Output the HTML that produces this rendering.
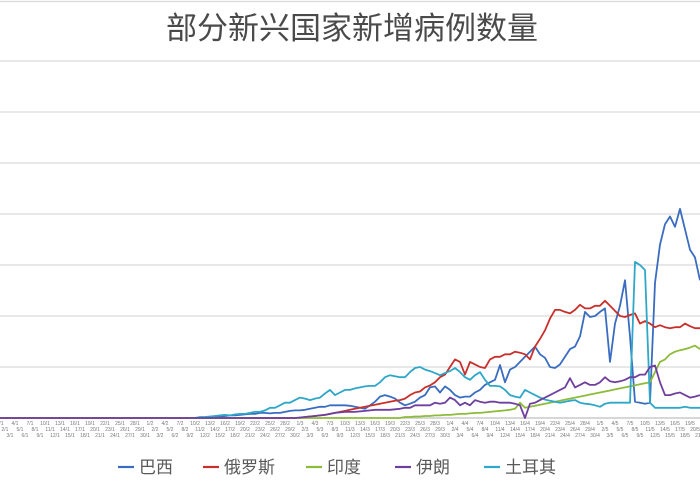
<!DOCTYPE html>
<html><head><meta charset="utf-8">
<style>
html,body{margin:0;padding:0;background:#fff;}
#chart{position:absolute;left:0;top:0;width:700px;height:500px;overflow:hidden;}
</style></head>
<body>
<div id="chart">
<svg id="svg" width="700" height="500" xmlns="http://www.w3.org/2000/svg">
<text x="352" y="39" text-anchor="middle" font-family="Liberation Sans, 'Noto Sans CJK SC', sans-serif" font-size="31" fill="#4a4a4a">部分新兴国家新增病例数量</text>
<g id="grid"></g><g id="xlabels"></g><g id="series"></g>
<g id="legend" font-family="Liberation Sans, 'Noto Sans CJK SC', sans-serif" font-size="17" fill="#595959"></g>
</svg>
</div>
<script>
const gridValues = [0,1,2,3,4,5,6,7];
const nCategories = 141;
const seriesNames = ["巴西","俄罗斯","印度","伊朗","土耳其"];
const seriesColors = ["#3a6cc0","#c8302c","#8dbb3a","#6f3f9e","#2ea7c8"];
const brazilStart = 38;
const brazilValues = [0,0,0,0.01,0.02,0.03,0.03,0.04,0.05,0.05,0.06,0.07,0.08,0.08,0.1,0.1,0.09,0.1,0.1,0.12,0.14,0.15,0.15,0.16,0.18,0.2,0.22,0.22,
0.25,0.25,0.25,0.25,0.24,0.22,0.2,0.18,0.25,0.32,0.42,0.45,0.42,0.38,0.3,0.25,0.28,0.32,0.4,0.45,0.6,0.62,0.5,0.62,0.55,0.45,0.4,0.42,0.42,0.5,0.55,0.65,0.7,0.75,1.04,0.7,0.95,1.0,1.1,1.2,1.3,1.4,1.25,1.18,1.0,0.98,1.05,1.2,1.35,1.4,1.6,2.08,1.98,2.0,2.08,2.15,1.1,1.85,2.2,2.7,1.6,0.32,0.3,0.28,0.3,2.65,3.4,3.8,3.95,3.75,4.1,3.7,3.3,3.15,2.7];
const russiaStart = 61;
const russiaValues = [0.02,0.03,0.04,0.05,0.06,0.08,0.1,0.12,0.14,0.16,0.18,0.2,0.22,0.24,0.26,0.28,0.3,0.32,0.34,0.35,0.38,0.45,0.5,0.52,0.6,0.64,0.7,0.8,0.85,1.0,1.15,1.1,0.85,1.1,1.05,1.0,0.98,1.15,1.2,1.2,1.25,1.25,1.3,1.28,1.25,1.15,1.4,1.55,1.72,1.95,2.12,2.12,2.08,2.05,2.12,2.22,2.15,2.15,2.2,2.2,2.3,2.2,2.1,2.0,1.98,2.02,2.05,1.85,1.9,1.85,1.78,1.82,1.78,1.76,1.78,1.78,1.85,1.8,1.76,1.76];
const indiaStart = 81;
const indiaValues = [0.02,0.02,0.03,0.03,0.04,0.04,0.05,0.05,0.06,0.06,0.07,0.08,0.08,0.09,0.1,0.1,0.11,0.12,0.13,0.14,0.15,0.16,0.18,0.3,0.2,0.22,0.24,0.26,0.28,0.3,0.32,0.34,0.36,0.38,0.4,0.42,0.44,0.46,0.48,0.5,0.52,0.54,0.56,0.58,0.6,0.62,0.64,0.66,0.68,0.7,0.9,1.1,1.15,1.25,1.3,1.33,1.35,1.38,1.42,1.35];
const iranStart = 60;
const iranValues = [0.01,0.02,0.03,0.04,0.05,0.06,0.08,0.1,0.11,0.12,0.12,0.12,0.13,0.14,0.15,0.16,0.16,0.16,0.16,0.17,0.18,0.2,0.2,0.25,0.25,0.25,0.25,0.3,0.28,0.3,0.4,0.35,0.25,0.3,0.25,0.35,0.32,0.3,0.32,0.32,0.3,0.3,0.3,0.28,0.25,0.0,0.28,0.3,0.35,0.4,0.45,0.5,0.55,0.6,0.78,0.6,0.65,0.7,0.65,0.65,0.7,0.8,0.72,0.7,0.72,0.75,0.8,0.8,0.85,0.85,1.0,1.03,0.7,0.45,0.45,0.48,0.5,0.45,0.4,0.42,0.45];
const turkeyStart = 38;
const turkeyValues = [0,0,0.02,0.02,0.03,0.04,0.05,0.06,0.05,0.07,0.08,0.08,0.1,0.12,0.12,
0.15,0.2,0.2,0.25,0.3,0.3,0.35,0.4,0.38,0.35,0.38,0.4,0.48,0.55,0.45,0.5,0.55,0.55,0.58,0.6,0.62,0.63,0.63,0.7,0.8,0.84,0.82,0.8,0.8,0.9,0.98,1.0,0.95,0.92,0.88,0.84,0.88,0.92,0.98,0.9,0.8,0.75,0.84,0.9,0.75,0.63,0.63,0.62,0.55,0.45,0.42,0.4,0.55,0.5,0.45,0.4,0.36,0.34,0.32,0.3,0.32,0.34,0.35,0.3,0.28,0.27,0.25,0.22,0.28,0.3,0.3,0.3,0.3,0.3,3.06,3.0,2.9,0.3,0.2,0.2,0.2,0.2,0.2,0.2,0.22,0.2,0.2,0.2];

const NS='http://www.w3.org/2000/svg';
const baseY=418, unit=51, plotW=700;
function xs(i){return i*plotW/(nCategories-1);}
function ys(v){return baseY-v*unit;}
function mk(tag,attrs,parent){const e=document.createElementNS(NS,tag);for(const k in attrs)e.setAttribute(k,attrs[k]);parent.appendChild(e);return e;}

const grid=document.getElementById('grid');
gridValues.forEach(v=>{
  const l=mk('line',{x1:0,x2:700,y1:ys(v),y2:ys(v),stroke:v===0?'#bfbfbf':'#d9d9d9','stroke-width':1.3},grid);
  
  
});
const topLine=mk('line',{x1:0,x2:700,y1:1.5,y2:1.5,stroke:'#d9d9d9','stroke-width':1.3},grid);



const xl=document.getElementById('xlabels');
for(let i=0;i<nCategories;i++){
  const row=i%3;
  const t=mk('text',{x:xs(i),y:425+row*6,'font-size':5,fill:'#777','font-family':'Liberation Sans, sans-serif','text-anchor':'middle'},xl);
  t.textContent=(i%30+1)+'/'+(Math.floor(i/30)+1);
  
  
}

const seriesData=[[brazilStart,brazilValues],[russiaStart,russiaValues],[indiaStart,indiaValues],[iranStart,iranValues],[turkeyStart,turkeyValues]];
const sg=document.getElementById('series');
const order=[0,1,2,4,3];
order.forEach(s=>{
  const [st,vals]=seriesData[s];
  const pts=[];
  if(s!==4) pts.push([xs(0),ys(0)]);
  if(s!==4 && st>0) pts.push([xs(st-1),ys(0)]);
  vals.forEach((v,k)=>pts.push([xs(st+k),ys(v)]));
  const p=mk('polyline',{points:pts.map(p=>p[0].toFixed(1)+','+p[1].toFixed(1)).join(' '),fill:'none',stroke:seriesColors[s],'stroke-width':1.8,'stroke-linejoin':'round'},sg);
  
  
});

const lg=document.getElementById('legend');
const legendX=[118,203,306,395,484];
seriesNames.forEach((n,s)=>{
  const g=mk('g',{},lg);
  
  
  mk('line',{x1:legendX[s],x2:legendX[s]+16,y1:467,y2:467,stroke:seriesColors[s],'stroke-width':2.2},g);
  const t=mk('text',{x:legendX[s]+21,y:473},g);
  t.textContent=n;
});
</script>
</body></html>
